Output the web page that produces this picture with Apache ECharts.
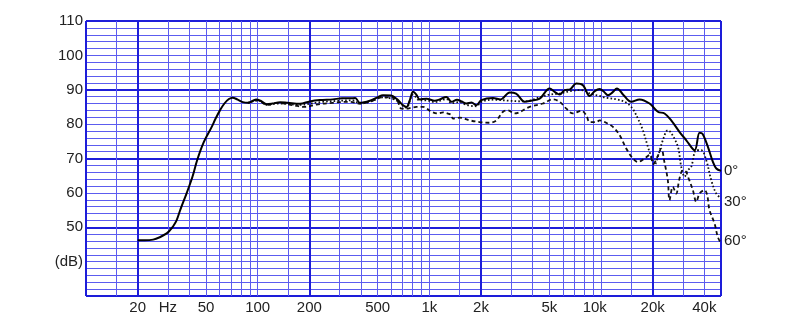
<!DOCTYPE html>
<html><head><meta charset="utf-8">
<script src="https://cdn.jsdelivr.net/npm/echarts@6/dist/echarts.min.js"></script>
<style>html,body{margin:0;padding:0;background:#fff}#c{width:804px;height:329px}</style>
</head><body><div id="c"></div>
<script>
// ---- data (frequency in Hz, level in dB) ----
const freq0 = [20,22,24.6,26.9,29.5,30.8,32.2,33.7,35.5,38.5,41.7,44.4,48.2,54,57,60.3,64,68,71.5,76,82,88,94,98,104,113,122,135,150,176,201,230,274,310,344,370,394,450,500,537,600,650,703,736,770,804,840,879,962,1075,1150,1258,1345,1450,1540,1645,1760,1880,2010,2349,2600,2938,3200,3592,3900,4392,5021,5370,5742,6141,6600,7180,7852,8590,9200,9818,10400,10975,11700,12380,13500,15010,16780,19180,21440,23450,25640,28690,31390,35080,37510,39000,41950,44850,46940,50000];
const db0 = [46.2,46.2,46.4,47.1,48.2,49.1,50.3,52.0,55.2,59.8,64.7,69.5,74.4,79.2,81.7,84,86,87.3,87.7,87.2,86.4,86.2,86.8,87.2,86.8,85.8,86.0,86.4,86.2,85.9,86.6,87.0,87.2,87.5,87.5,87.6,86.2,86.8,87.8,88.4,88.3,87.2,85.5,85.0,87.0,89.4,88.6,87.2,87.4,86.8,87.2,87.9,86.5,87.1,86.6,86.0,86.3,85.5,87,87.6,87.2,89.2,88.9,86.5,86.8,87.4,90.4,89.4,88.6,89.9,90.1,91.8,91.3,88.2,89.6,90.2,89.4,88.4,89.3,90.4,88.5,86.5,87.2,86,83.6,83.1,81.1,77.7,75.3,72.4,77.5,77.2,73.4,69.0,67.1,66.4];

const freq30 = [88,100,113,135,176,230,300,360,394,450,537,650,703,736,804,879,962,1075,1258,1345,1500,1645,1880,2010,2349,2938,3592,4392,5021,5742,6600,7500,8200,8590,9818,10400,11000,12380,14000,15280,16400,17540,18750,19630,20520,21440,22920,24500,25500,28050,29330,30690,32060,33500,35890,38370,41020,43860,46900,50000];
const db30 = [86.2,86.9,85.6,86.0,85.6,86.4,86.8,86.9,86.0,86.5,87.8,86.8,85.3,84.8,88.6,86.9,86.9,86.4,87.3,86.1,86.4,85.6,85.2,86.5,87.1,86.8,86.6,87.8,88.6,88.9,89.6,89.9,89.6,88.9,88.2,87.8,87.6,87.2,86.3,84.5,81.6,78.2,73.4,70.5,68.1,70.5,75.3,78.2,77.6,73.4,67.6,64.7,66.6,67.5,72.4,72.4,69.5,63.7,59.8,58.4];

const freq60 = [88,100,113,128.8,161,188,220,274,344,394,450,537,600,650,688,736,790,841,919,1029,1124,1202,1300,1345,1374,1503,1718,1965,2248,2459,2686,2872,3141,3838,4590,5248,5742,6281,6859,7677,8205,8590,9393,9818,10900,11730,12830,14000,15340,16400,17950,19180,20200,21300,22440,23400,24500,25060,26200,27420,28600,29980,31200,32500,34280,35890,37510,40090,41500,42860,45840,47890,50000];
const db60 = [86.2,86.9,85.6,86.2,85.5,85.0,85.7,86.2,86.5,86.0,86.5,87.8,87.8,86.8,84.5,84.5,84.8,85.0,85.0,83.6,83.1,83.4,83.0,82.6,81.6,81.9,81.1,80.6,80.4,81.1,83.6,84.0,83.1,85.0,86.0,87.2,86.5,84.5,83.1,83.9,82.6,80.6,80.6,81.1,80.2,79.2,76.8,73.0,70.0,69.0,70.0,71.0,68.5,70.5,72.9,69.0,63.7,57.9,61.8,59.8,64.0,66.6,66.2,64.0,60.8,57.4,59.8,60.8,59.5,55.0,51.1,47.2,45.3];

const seriesNames = ['0°','30°','60°'];

// ---- axes ----
const freqMin = 10, freqMax = 50000;
const gridFreqs = [10,15,20,30,40,50,60,70,80,90,100,150,200,300,400,500,600,700,800,900,1000,1500,2000,3000,4000,5000,6000,7000,8000,9000,10000,15000,20000,30000,40000,50000];
const boldFreqs = [10,20,200,2000,20000,50000];
const xTickFreqs = [20,30,50,100,200,500,1000,2000,5000,10000,20000,40000];
const xTickLabels = ['20','Hz','50','100','200','500','1k','2k','5k','10k   ','20k','40k'];
const dbMin = 30, dbMax = 110;
const yLabelValues = [30,40,50,60,70,80,90,100,110];
const yLabelTexts = ['','(dB)','50','60','70','80','90','100','110'];

const FONT = '"Liberation Sans", Arial, Helvetica, sans-serif';
const THIN = '#5c5cef', BOLD = '#1d1dd9', TXT = '#222';

const lg = v => Math.log10(v);
const pairs = (f, d) => f.map((x, i) => [x, d[i]]);

const hiddenAxis = {axisLine:{show:false}, axisTick:{show:false}, axisLabel:{show:false}, splitLine:{show:false}};

const option = {
  animation: false,
  backgroundColor: '#fff',
  grid: {left: 86, right: 83, top: 21, bottom: 33, containLabel: false},
  xAxis: [
    Object.assign({type: 'log', logBase: 10, min: freqMin, max: freqMax}, hiddenAxis),
    {type: 'value', min: lg(freqMin), max: lg(freqMax), position: 'bottom',
      axisLine: {show: false}, axisLabel: {show: false},
      axisTick: {show: false, customValues: gridFreqs.map(lg)},
      splitLine: {show: true, lineStyle: {color: THIN, width: 1}}},
    {type: 'value', min: lg(freqMin), max: lg(freqMax), position: 'bottom',
      axisLine: {show: false},
      axisTick: {show: false, customValues: boldFreqs.map(lg)},
      splitLine: {show: true, lineStyle: {color: BOLD, width: 2}},
      axisLabel: {show: true, customValues: xTickFreqs.map(lg), margin: 4,
        color: TXT, fontSize: 15, fontFamily: FONT,
        formatter: v => { const i = xTickFreqs.findIndex(f => Math.abs(lg(f) - v) < 1e-6); return i >= 0 ? xTickLabels[i] : ''; }}}
  ],
  yAxis: [
    {type: 'value', min: dbMin, max: dbMax, interval: 2, position: 'left',
      axisLine: {show: false}, axisTick: {show: false}, axisLabel: {show: false},
      splitLine: {show: true, lineStyle: {color: THIN, width: 1}}},
    {type: 'value', min: dbMin, max: dbMax, interval: 20, position: 'left',
      axisLine: {show: false}, axisTick: {show: false}, axisLabel: {show: false},
      splitLine: {show: true, lineStyle: {color: BOLD, width: 2}}},
    {type: 'value', min: dbMin, max: dbMax, interval: 10, position: 'left',
      axisLine: {show: false}, axisTick: {show: false}, splitLine: {show: false},
      axisLabel: {show: true, margin: 3, color: TXT, fontSize: 15, fontFamily: FONT,
        formatter: v => { const i = yLabelValues.indexOf(v); return i >= 0 ? yLabelTexts[i] : ''; }}}
  ],
  series: [
    {name: seriesNames[1], type: 'line', xAxisIndex: 0, yAxisIndex: 0, data: pairs(freq30, db30),
      showSymbol: false, smooth: 0.35, z: 3,
      lineStyle: {color: '#111', width: 1.8, type: [1.6, 2.2]},
      endLabel: {show: true, formatter: seriesNames[1], distance: 3, offset: [0, 3], color: TXT, fontSize: 15, fontFamily: FONT}},
    {name: seriesNames[2], type: 'line', xAxisIndex: 0, yAxisIndex: 0, data: pairs(freq60, db60),
      showSymbol: false, smooth: 0.35, z: 3,
      lineStyle: {color: '#111', width: 1.8, type: [4, 3]},
      endLabel: {show: true, formatter: seriesNames[2], distance: 3, offset: [0, -3], color: TXT, fontSize: 15, fontFamily: FONT}},
    {name: seriesNames[0], type: 'line', xAxisIndex: 0, yAxisIndex: 0, data: pairs(freq0, db0),
      showSymbol: false, smooth: 0.35, z: 4,
      lineStyle: {color: '#000', width: 2},
      endLabel: {show: true, formatter: seriesNames[0], distance: 3, offset: [0, 0], color: TXT, fontSize: 15, fontFamily: FONT}}
  ]
};
const chart = echarts.init(document.getElementById('c'), null, {renderer: 'canvas'});
chart.setOption(option);
</script>
</body></html>
